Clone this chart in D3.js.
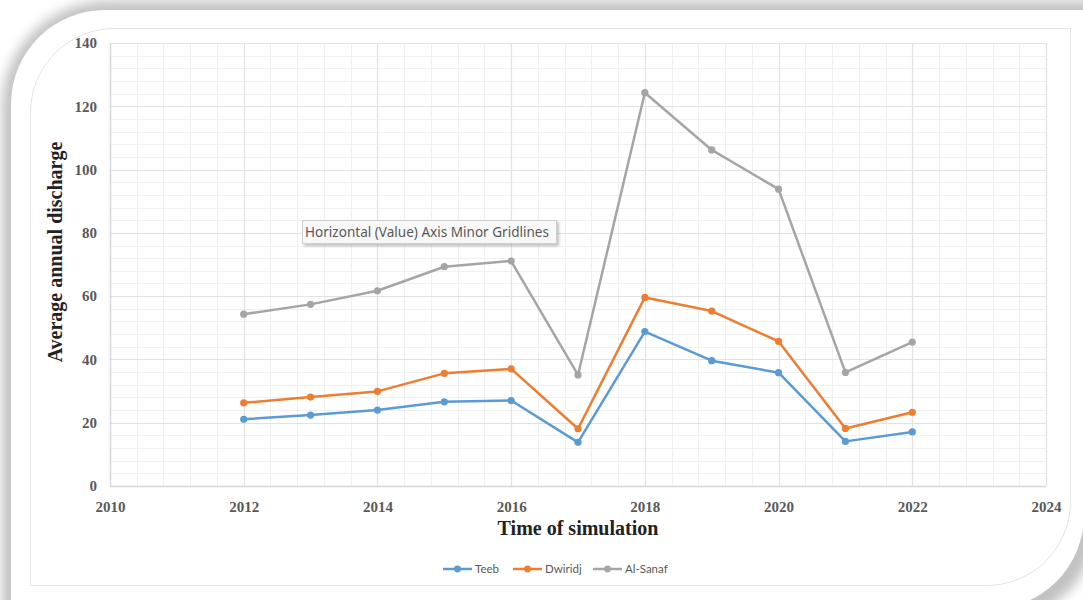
<!DOCTYPE html>
<html>
<head>
<meta charset="utf-8">
<script src="https://cdn.jsdelivr.net/npm/d3@7"></script>
<style>
  html, body { margin: 0; padding: 0; background: #ffffff; }
  svg { display: block; }
</style>
</head>
<body>
<svg id="chart" width="1083" height="600"></svg>
<script>
// Simulation years and average annual discharge per station
const years = [2012, 2013, 2014, 2015, 2016, 2017, 2018, 2019, 2020, 2021, 2022];
const teeb = [21.1, 22.4, 24.0, 26.6, 27.0, 13.8, 48.8, 39.6, 35.8, 14.1, 17.1];
const dwiridj = [26.3, 28.1, 29.9, 35.6, 37.0, 18.1, 59.6, 55.3, 45.7, 18.2, 23.3];
const alSanaf = [54.3, 57.4, 61.7, 69.3, 71.1, 35.1, 124.3, 106.2, 93.8, 35.9, 45.5];
const seriesNames = ["Teeb", "Dwiridj", "Al-Sanaf"];
const xTicks = [2010, 2012, 2014, 2016, 2018, 2020, 2022, 2024];
const yTicks = [0, 20, 40, 60, 80, 100, 120, 140];

const colors = ["#5b9bd5", "#ed7d31", "#a5a5a5"];
const seriesValues = [teeb, dwiridj, alSanaf];

const svg = d3.select("#chart");
const W = 1083, H = 600;

// ---- card background with soft shadow and diagonal rounded corners ----
const defs = svg.append("defs");
defs.append("filter").attr("id", "soft").attr("x", "-10%").attr("y", "-10%").attr("width", "120%").attr("height", "120%")
  .append("feGaussianBlur").attr("stdDeviation", 6);
const tipShadow = defs.append("filter").attr("id", "tipShadow").attr("x", "-10%").attr("y", "-30%").attr("width", "120%").attr("height", "180%");
tipShadow.append("feDropShadow").attr("dx", 2).attr("dy", 2).attr("stdDeviation", 1.5).attr("flood-color", "#000").attr("flood-opacity", 0.25);

function diagRoundRect(x0, y0, x1, y1, r) {
  return `M${x0},${y0 + r} A${r},${r} 0 0 1 ${x0 + r},${y0} L${x1},${y0} L${x1},${y1 - r} A${r},${r} 0 0 1 ${x1 - r},${y1} L${x0},${y1} Z`;
}

svg.append("rect").attr("width", W).attr("height", H).attr("fill", "#ffffff");
svg.append("path")
  .attr("d", diagRoundRect(2, 1, 1098, 624, 106))
  .attr("fill", "#c2c2c2")
  .attr("filter", "url(#soft)");
svg.append("path")
  .attr("d", diagRoundRect(11, 10, 1084, 609, 94))
  .attr("fill", "#ffffff");
// chart area outline
svg.append("path")
  .attr("d", diagRoundRect(30.5, 28.5, 1070.5, 585.5, 84))
  .attr("fill", "none")
  .attr("stroke", "#e3e3e3")
  .attr("stroke-width", 1);

// ---- plot area ----
const plot = { left: 110, right: 1046, top: 43, bottom: 486 };
const x = d3.scaleLinear().domain([2010, 2024]).range([plot.left, plot.right]);
const y = d3.scaleLinear().domain([0, 140]).range([plot.bottom, plot.top]);

const grid = svg.append("g");
const xMinor = d3.range(0, 36).map(i => 2010 + i * 0.4);
const yMinor = d3.range(0, 36).map(i => i * 4);

grid.selectAll("line.xminor").data(xMinor).join("line")
  .attr("x1", d => Math.round(x(d)) + 0.5).attr("x2", d => Math.round(x(d)) + 0.5)
  .attr("y1", plot.top).attr("y2", plot.bottom)
  .attr("stroke", "#f0f0f0").attr("stroke-width", 1);
grid.selectAll("line.yminor").data(yMinor).join("line")
  .attr("y1", d => Math.round(y(d)) + 0.5).attr("y2", d => Math.round(y(d)) + 0.5)
  .attr("x1", plot.left).attr("x2", plot.right)
  .attr("stroke", "#f0f0f0").attr("stroke-width", 1);
grid.selectAll("line.xmajor").data(xTicks).join("line")
  .attr("x1", d => Math.round(x(d)) + 0.5).attr("x2", d => Math.round(x(d)) + 0.5)
  .attr("y1", plot.top).attr("y2", plot.bottom)
  .attr("stroke", "#e2e2e2").attr("stroke-width", 1.2);
grid.selectAll("line.ymajor").data(yTicks).join("line")
  .attr("y1", d => Math.round(y(d)) + 0.5).attr("y2", d => Math.round(y(d)) + 0.5)
  .attr("x1", plot.left).attr("x2", plot.right)
  .attr("stroke", "#e2e2e2").attr("stroke-width", 1.2);
// axis lines
svg.append("line").attr("x1", plot.left).attr("x2", plot.right)
  .attr("y1", plot.bottom + 0.5).attr("y2", plot.bottom + 0.5)
  .attr("stroke", "#d6d6d6").attr("stroke-width", 1.3);
svg.append("line").attr("x1", plot.left + 0.5).attr("x2", plot.left + 0.5)
  .attr("y1", plot.top).attr("y2", plot.bottom)
  .attr("stroke", "#d6d6d6").attr("stroke-width", 1.3);

// ---- axes ----
const tickFont = "'Liberation Serif', 'Times New Roman', serif";
const xAxis = svg.append("g")
  .attr("transform", `translate(0,${plot.bottom})`)
  .call(d3.axisBottom(x).tickValues(xTicks).tickFormat(d3.format("d")).tickSize(0).tickPadding(15));
const yAxis = svg.append("g")
  .attr("transform", `translate(${plot.left},0)`)
  .call(d3.axisLeft(y).tickValues(yTicks).tickFormat(d3.format("d")).tickSize(0).tickPadding(13));
[xAxis, yAxis].forEach(a => {
  a.select(".domain").remove();
  a.selectAll("text")
    .attr("fill", "#595959")
    .style("font-family", tickFont)
    .style("font-weight", "bold")
    .style("font-size", "15px");
});

// axis titles
svg.append("text")
  .attr("x", x(2017)).attr("y", 535)
  .attr("text-anchor", "middle")
  .style("font-family", tickFont).style("font-weight", "bold").style("font-size", "20px")
  .attr("fill", "#222")
  .text("Time of simulation");
svg.append("text")
  .attr("transform", `translate(62,252) rotate(-90)`)
  .attr("text-anchor", "middle")
  .style("font-family", tickFont).style("font-weight", "bold").style("font-size", "20px")
  .attr("fill", "#222")
  .text("Average annual discharge");

// ---- series ----
const line = d3.line().x(d => x(d.year)).y(d => y(d.value));
seriesValues.forEach((vals, i) => {
  const pts = years.map((yr, k) => ({ year: yr, value: vals[k] }));
  const g = svg.append("g");
  g.append("path").datum(pts)
    .attr("d", line)
    .attr("fill", "none")
    .attr("stroke", colors[i])
    .attr("stroke-width", 2.5)
    .attr("stroke-linejoin", "round");
  g.selectAll("circle").data(pts).join("circle")
    .attr("cx", d => x(d.year)).attr("cy", d => y(d.value))
    .attr("r", 3.6)
    .attr("fill", colors[i]);
});

// ---- legend ----
const legendX = [443, 513, 593];
const legend = svg.append("g");
seriesNames.forEach((name, i) => {
  const lx = legendX[i], ly = 569;
  legend.append("line").attr("x1", lx).attr("x2", lx + 29).attr("y1", ly).attr("y2", ly)
    .attr("stroke", colors[i]).attr("stroke-width", 2.5);
  legend.append("circle").attr("cx", lx + 14.5).attr("cy", ly).attr("r", 3.4).attr("fill", colors[i]);
  legend.append("text").attr("x", lx + 32).attr("y", ly + 4)
    .style("font-family", "Lato, 'Noto Sans', sans-serif").style("font-size", "11.5px")
    .attr("fill", "#595959")
    .text(name);
});

// ---- hover label for the minor gridlines ----
const tip = svg.append("g");
tip.append("rect")
  .attr("x", 302.5).attr("y", 220.5).attr("width", 254).attr("height", 23)
  .attr("fill", "#f8f8f8").attr("stroke", "#d0d0d0").attr("stroke-width", 1)
  .attr("filter", "url(#tipShadow)");
tip.append("text")
  .attr("x", 305).attr("y", 237)
  .attr("textLength", 244).attr("lengthAdjust", "spacingAndGlyphs")
  .style("font-family", "'Noto Sans', 'Open Sans', sans-serif").style("font-size", "13.5px")
  .attr("fill", "#595959")
  .text("Horizontal (Value) Axis Minor Gridlines");
</script>
</body>
</html>
